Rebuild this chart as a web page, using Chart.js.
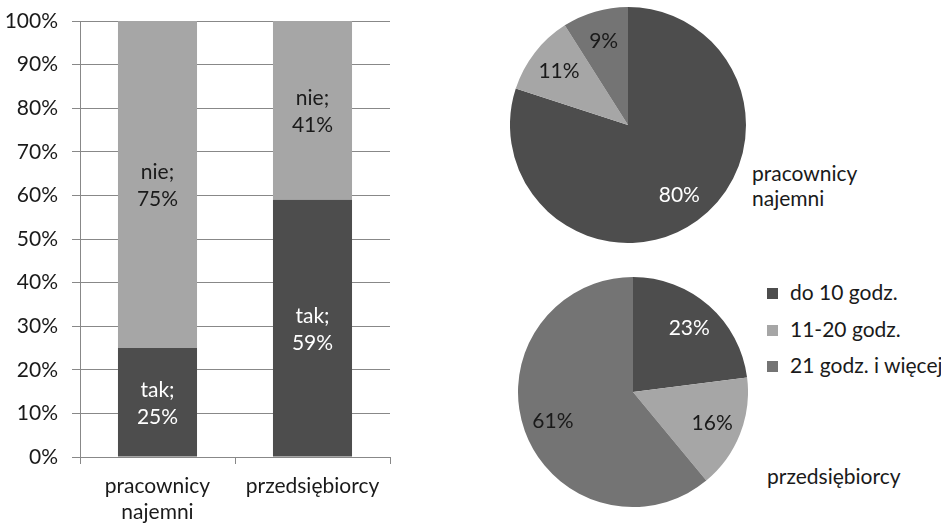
<!DOCTYPE html>
<html>
<head>
<meta charset="utf-8">
<script src="https://cdn.jsdelivr.net/npm/chart.js@4.4.1/dist/chart.umd.min.js"></script>
<style>
  html, body { margin: 0; padding: 0; background: #fff; }
  body { width: 941px; height: 523px; position: relative; overflow: hidden; font-family: Lato, 'Open Sans', sans-serif; color: #1a1a1a; }
  canvas { position: absolute; }
  .txt { position: absolute; font-size: 21px; line-height: 25px; white-space: nowrap; }
  .leg { position: absolute; left: 767px; font-size: 21px; line-height: 24px; white-space: nowrap; }
  .leg span { display: inline-block; width: 11px; height: 11px; margin-right: 12px; vertical-align: 1px; }
</style>
</head>
<body>
<canvas id="bar" width="420" height="523" style="left:0;top:0"></canvas>
<canvas id="pie1" width="236" height="236" style="left:510px;top:7px"></canvas>
<canvas id="pie2" width="230" height="230" style="left:518px;top:277px"></canvas>
<div class="txt" style="left:752px;top:160px">pracownicy<br>najemni</div>
<div class="txt" style="left:767px;top:463px">przedsiębiorcy</div>
<div id="legend"></div>
<script>
const $ = (id) => document.getElementById(id);

// ----- data -----
const groups = [['pracownicy', 'najemni'], 'przedsiębiorcy'];
const yesName = 'tak', noName = 'nie';
const yesVals = [25, 59];
const noVals = [75, 41];
const yTicks = [0, 10, 20, 30, 40, 50, 60, 70, 80, 90, 100];

const hourCats = ['do 10 godz.', '11-20 godz.', '21 godz. i więcej'];
const hoursEmployees = [80, 11, 9];
const hoursEntrepreneurs = [23, 16, 61];

const DARK = '#4d4d4d', LIGHT = '#a6a6a6', MID = '#747474';
const sliceColors = [DARK, LIGHT, MID];
const FONT = { family: "Lato, 'Open Sans', sans-serif", size: 21 };

// ----- labels inside bars / slices -----
const barLabels = {
  id: 'barLabels',
  afterDatasetsDraw(c) {
    const g = c.ctx;
    g.save();
    g.font = FONT.size + 'px ' + FONT.family;
    g.textAlign = 'center'; g.textBaseline = 'middle';
    c.data.datasets.forEach((ds, di) => {
      c.getDatasetMeta(di).data.forEach((bar, i) => {
        const mid = (bar.y + bar.base) / 2;
        g.fillStyle = ds.labelColor;
        g.fillText(ds.label + ';', bar.x, mid - 12);
        g.fillText(ds.data[i] + '%', bar.x, mid + 15);
      });
    });
    g.restore();
  }
};

const pieLabels = {
  id: 'pieLabels',
  afterDatasetsDraw(c) {
    const g = c.ctx;
    g.save();
    g.font = FONT.size + 'px ' + FONT.family;
    g.textAlign = 'center'; g.textBaseline = 'middle';
    const ds = c.data.datasets[0];
    c.getDatasetMeta(0).data.forEach((arc, i) => {
      const a = (arc.startAngle + arc.endAngle) / 2;
      const r = arc.outerRadius * 0.74;
      g.fillStyle = ds.labelColors[i];
      g.fillText(ds.data[i] + '%', arc.x + Math.cos(a) * r, arc.y + Math.sin(a) * r);
    });
    g.restore();
  }
};

// ----- stacked bar -----
new Chart($('bar'), {
  type: 'bar',
  data: {
    labels: groups,
    datasets: [
      { label: yesName, data: yesVals, backgroundColor: DARK, labelColor: '#ffffff', barPercentage: 0.51, categoryPercentage: 1 },
      { label: noName, data: noVals, backgroundColor: LIGHT, labelColor: '#1a1a1a', barPercentage: 0.51, categoryPercentage: 1 }
    ]
  },
  options: {
    responsive: false, animation: false,
    layout: { padding: { top: 21, right: 30, bottom: 0, left: 0 } },
    plugins: { legend: { display: false }, tooltip: { enabled: false } },
    scales: {
      x: {
        stacked: true,
        afterFit: (s) => { s.height = 66; },
        grid: { drawOnChartArea: false, drawTicks: true, tickLength: 7, color: '#888' },
        border: { color: '#888', width: 1 },
        ticks: { color: '#1a1a1a', font: { ...FONT, lineHeight: 1.25 }, padding: 9 }
      },
      y: {
        stacked: true, min: 0, max: 100,
        // fixed width; drop the label padding so layout.padding.top decides the top edge
        afterFit: (s) => { s.width = 80; s.paddingTop = 0; s.paddingBottom = 0; },
        afterBuildTicks: (s) => { s.ticks = yTicks.map(v => ({ value: v })); },
        grid: { color: '#888', tickLength: 8 },
        border: { color: '#888', width: 1 },
        ticks: { color: '#1a1a1a', font: FONT, padding: 14, callback: (v) => v + '%' }
      }
    }
  },
  plugins: [barLabels]
});

// ----- pies -----
function pie(id, vals, labelColors) {
  return new Chart($(id), {
    type: 'pie',
    data: {
      labels: hourCats,
      datasets: [{ data: vals, backgroundColor: sliceColors, borderWidth: 0, labelColors }]
    },
    options: {
      responsive: false, animation: false,
      layout: { padding: 0 },
      plugins: { legend: { display: false }, tooltip: { enabled: false } }
    },
    plugins: [pieLabels]
  });
}
pie('pie1', hoursEmployees, ['#ffffff', '#1a1a1a', '#1a1a1a']);
pie('pie2', hoursEntrepreneurs, ['#ffffff', '#1a1a1a', '#1a1a1a']);

// ----- legend -----
const legendTops = [280, 317, 353];
hourCats.forEach((name, i) => {
  const d = document.createElement('div');
  d.className = 'leg';
  d.style.top = legendTops[i] + 'px';
  d.innerHTML = '<span style="background:' + sliceColors[i] + '"></span>' + name;
  $('legend').appendChild(d);
});
</script>
</body>
</html>
